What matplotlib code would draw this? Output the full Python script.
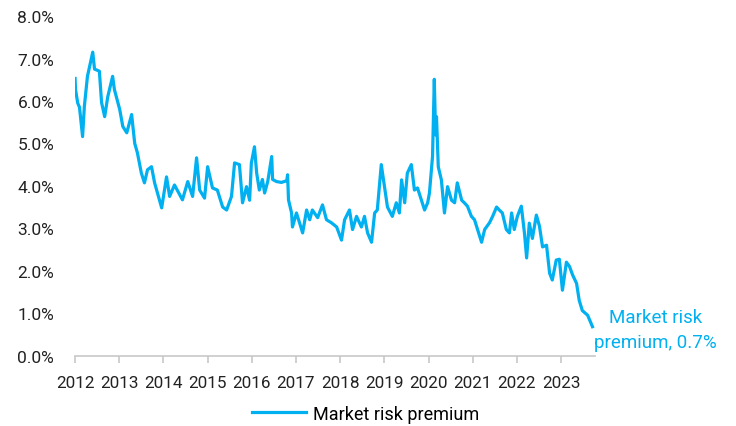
import numpy as np
import matplotlib
matplotlib.use("Agg")
from matplotlib import pyplot as plt
from matplotlib.ticker import FuncFormatter

plt.rcParams['font.family'] = ['Roboto', 'DejaVu Sans']

# decimal year / market risk premium (%)
years = [2012.00, 2012.01, 2012.06, 2012.10, 2012.17, 2012.21, 2012.28, 2012.40, 2012.44, 2012.51,
         2012.55, 2012.60, 2012.67, 2012.74, 2012.85, 2012.89, 2013.01, 2013.08, 2013.17, 2013.28,
         2013.35, 2013.41, 2013.50, 2013.57, 2013.64, 2013.73, 2013.80, 2013.91, 2013.96, 2014.07,
         2014.14, 2014.25, 2014.43, 2014.55, 2014.66, 2014.75, 2014.82, 2014.93, 2015.00, 2015.11,
         2015.22, 2015.34, 2015.43, 2015.54, 2015.61, 2015.72, 2015.79, 2015.88, 2015.95, 2015.99,
         2016.06, 2016.11, 2016.17, 2016.24, 2016.29, 2016.36, 2016.45, 2016.47, 2016.56, 2016.67,
         2016.79, 2016.81, 2016.83, 2016.90, 2016.92, 2017.01, 2017.08, 2017.15, 2017.24, 2017.31,
         2017.37, 2017.49, 2017.60, 2017.69, 2017.80, 2017.92, 2018.03, 2018.10, 2018.21, 2018.28,
         2018.37, 2018.48, 2018.55, 2018.62, 2018.71, 2018.78, 2018.84, 2018.93, 2019.00, 2019.07,
         2019.18, 2019.27, 2019.34, 2019.39, 2019.46, 2019.52, 2019.61, 2019.68, 2019.75, 2019.84,
         2019.91, 2019.98, 2020.02, 2020.09, 2020.13, 2020.16, 2020.18, 2020.22, 2020.29, 2020.36,
         2020.43, 2020.52, 2020.59, 2020.65, 2020.75, 2020.81, 2020.88, 2020.97, 2021.04, 2021.11,
         2021.20, 2021.27, 2021.38, 2021.45, 2021.54, 2021.60, 2021.67, 2021.76, 2021.83, 2021.88,
         2021.94, 2022.01, 2022.10, 2022.17, 2022.22, 2022.28, 2022.35, 2022.44, 2022.51, 2022.58,
         2022.67, 2022.74, 2022.80, 2022.89, 2022.96, 2023.03, 2023.12, 2023.19, 2023.26, 2023.35,
         2023.41, 2023.48, 2023.60, 2023.66, 2023.71]
premium = [6.53, 6.27, 5.95, 5.85, 5.16, 5.87, 6.58, 7.15, 6.75, 6.72,
           6.70, 5.96, 5.63, 6.10, 6.58, 6.27, 5.80, 5.40, 5.25, 5.68,
           5.00, 4.78, 4.30, 4.07, 4.38, 4.45, 4.07, 3.67, 3.48, 4.21,
           3.75, 4.02, 3.67, 4.10, 3.75, 4.66, 3.90, 3.71, 4.45, 3.95,
           3.90, 3.50, 3.43, 3.75, 4.54, 4.50, 3.60, 3.98, 3.66, 4.54,
           4.92, 4.30, 3.90, 4.15, 3.83, 4.10, 4.69, 4.15, 4.10, 4.08,
           4.12, 4.26, 3.67, 3.36, 3.03, 3.36, 3.13, 2.89, 3.43, 3.20,
           3.43, 3.25, 3.55, 3.20, 3.13, 3.03, 2.72, 3.20, 3.43, 2.97,
           3.28, 3.03, 3.28, 2.89, 2.67, 3.36, 3.43, 4.50, 4.00, 3.50,
           3.28, 3.60, 3.36, 4.14, 3.60, 4.30, 4.50, 3.90, 3.95, 3.66,
           3.43, 3.60, 3.83, 4.69, 6.51, 5.20, 5.63, 4.45, 4.14, 3.36,
           3.98, 3.66, 3.60, 4.07, 3.66, 3.60, 3.52, 3.28, 3.20, 2.97,
           2.67, 2.97, 3.13, 3.28, 3.50, 3.43, 3.36, 2.97, 2.89, 3.36,
           2.97, 3.28, 3.52, 2.89, 2.30, 3.12, 2.76, 3.31, 3.05, 2.56,
           2.60, 1.94, 1.78, 2.25, 2.27, 1.54, 2.20, 2.10, 1.90, 1.70,
           1.30, 1.06, 0.95, 0.80, 0.68]
year_ticks = list(range(2012, 2024))
last_label = "Market risk\npremium, 0.7%"

blue = "#00b0f0"

fig = plt.figure(figsize=(7.36, 4.27), dpi=100)
ax = fig.add_axes([0.102, 0.165, 0.706, 0.795])
ax.plot(years, premium, color=blue, lw=2.3, label="Market risk premium")

ax.set_xlim(2012.0, 2023.76)
ax.set_ylim(0, 8)
ax.set_xticks(year_ticks)
ax.set_xticklabels([str(y) for y in year_ticks])
ax.set_yticks(np.arange(0, 9, 1))
ax.yaxis.set_major_formatter(FuncFormatter(lambda v, p: "%.1f%%" % v))

for s in ["top", "right", "left"]:
    ax.spines[s].set_visible(False)
ax.spines["bottom"].set_color("#c8c8c8")
ax.spines["bottom"].set_linewidth(1.2)
ax.tick_params(axis="x", colors="#c8c8c8", length=5, width=1.2, labelcolor="#222222",
               labelsize=12.3, pad=9)
ax.tick_params(axis="y", length=0, labelcolor="#222222", labelsize=12.5, pad=15)

ax.text(1.117, 0.077, last_label, transform=ax.transAxes, color=blue, fontsize=13.5,
        ha="center", va="center", linespacing=1.5)

fig.legend(loc="lower center", bbox_to_anchor=(0.497, -0.03), frameon=False,
           fontsize=13, handlelength=3.0, handletextpad=0.4)

fig.savefig("out.png", dpi=100)
